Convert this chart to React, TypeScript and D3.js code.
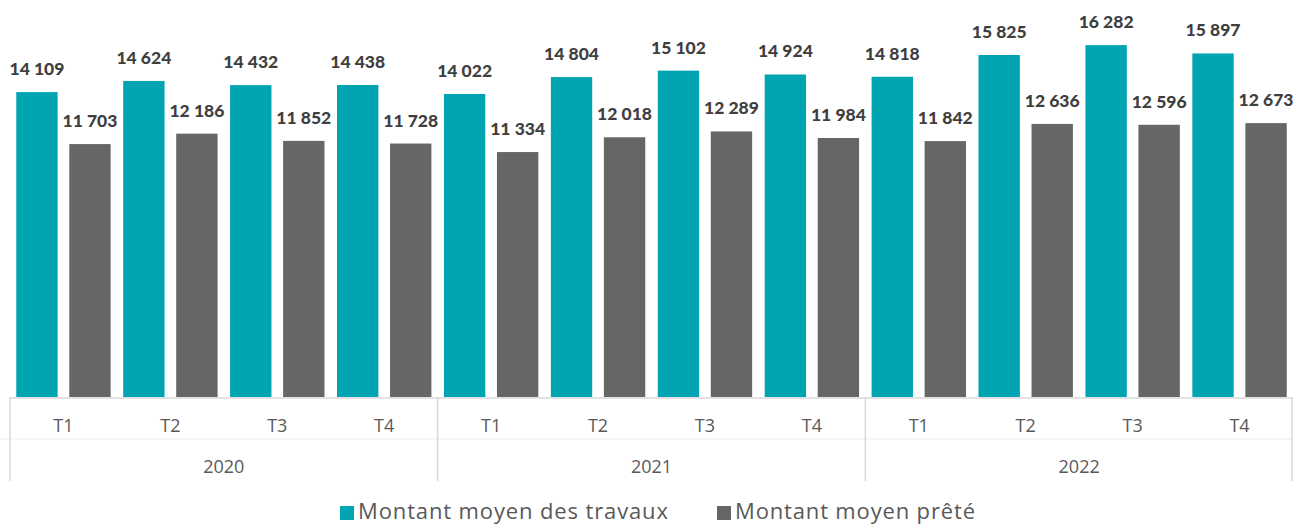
import React from 'react'
import * as d3 from 'd3'

const years = ['2020', '2021', '2022']
const quarters = ['T1', 'T2', 'T3', 'T4']
const travaux = [14109, 14624, 14432, 14438, 14022, 14804, 15102, 14924, 14818, 15825, 16282, 15897]
const prete = [11703, 12186, 11852, 11728, 11334, 12018, 12289, 11984, 11842, 12636, 12596, 12673]
const seriesNames = ['Montant moyen des travaux', 'Montant moyen prêté']
const colors = ['#00A5B1', '#666666']

const W = 1293
const H = 526
const left = 10
const right = 1293
const baseY = 397

const fmt = (v: number) => d3.format(',')(v).replace(/,/g, ' ')

export default function App() {
  const cats = years.flatMap((y) => quarters.map((q) => `${y}-${q}`))
  const x = d3.scaleBand<string>().domain(cats).range([left, right]).padding(0)
  const x1 = d3
    .scaleBand<string>()
    .domain(['a', 'b'])
    .range([0, x.step()])
    .paddingInner(0.22)
    .paddingOuter(0.118)
  const y = d3.scaleLinear().domain([0, 18000]).range([baseY, 8])
  const yearW = x.step() * quarters.length

  const series = [travaux, prete]

  return (
    <svg width={W} height={H} style={{ position: 'absolute', left: 0, top: 0 }}>
      <rect width={W} height={H} fill="#fff" />
      {cats.map((c, i) => (
        <g key={c} transform={`translate(${x(c)},0)`}>
          {series.map((s, k) => {
            const v = s[i]
            const bx = x1(k === 0 ? 'a' : 'b')!
            const bw = x1.bandwidth()
            return (
              <g key={k}>
                <rect x={bx} y={y(v)} width={bw} height={baseY - y(v)} fill={colors[k]} />
                <text
                  x={bx + bw / 2}
                  y={y(v) - 17}
                  textAnchor="middle"
                  fontFamily="Lato, 'Open Sans', sans-serif"
                  fontWeight={900}
                  fontSize={17.5}
                  fill="#3f3f3f"
                >
                  {fmt(v)}
                </text>
              </g>
            )
          })}
          <text
            x={x.step() / 2}
            y={432}
            textAnchor="middle"
            fontFamily="'Open Sans', sans-serif"
            fontSize={18}
            fill="#595959"
          >
            {quarters[i % 4]}
          </text>
        </g>
      ))}
      <line x1={left} x2={right} y1={baseY + 1} y2={baseY + 1} stroke="#d9d9d9" strokeWidth={1.5} />
      <line x1={0} x2={right} y1={439} y2={439} stroke="#eeeeee" strokeWidth={1} />
      {years.map((yr, j) => (
        <text
          key={yr}
          x={left + yearW * j + yearW / 2}
          y={473}
          textAnchor="middle"
          fontFamily="'Open Sans', sans-serif"
          fontSize={18}
          fill="#595959"
        >
          {yr}
        </text>
      ))}
      {d3.range(years.length + 1).map((j) => {
        const lx = Math.min(left + yearW * j, right - 1)
        return <line key={j} x1={lx} x2={lx} y1={baseY} y2={481} stroke="#d9d9d9" strokeWidth={1.5} />
      })}
      <g fontFamily="'Open Sans', sans-serif" fontSize={22} fill="#595959">
        <rect x={340} y={506} width={14} height={14} fill={colors[0]} />
        <text x={358} y={519} textLength={310} lengthAdjust="spacing">{seriesNames[0]}</text>
        <rect x={717} y={506} width={14} height={14} fill={colors[1]} />
        <text x={735} y={519} textLength={240} lengthAdjust="spacing">{seriesNames[1]}</text>
      </g>
    </svg>
  )
}
